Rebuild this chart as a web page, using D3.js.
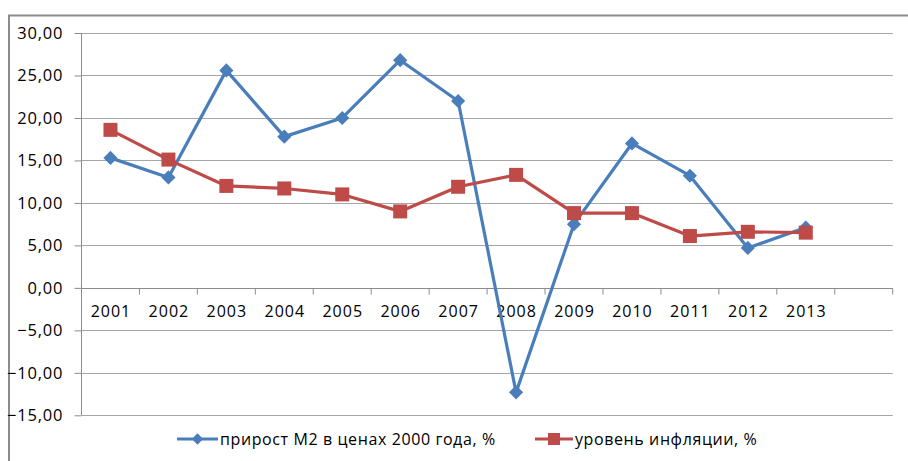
<!DOCTYPE html>
<html><head><meta charset="utf-8">
<script src="https://cdn.jsdelivr.net/npm/d3@7"></script>
<style>body{margin:0;background:#fff}svg{display:block}text{font-family:"Open Sans",Arial,sans-serif;fill:#000}</style>
</head><body>
<script>
const categories = ["2001","2002","2003","2004","2005","2006","2007","2008","2009","2010","2011","2012","2013",""];
const years = ["2001","2002","2003","2004","2005","2006","2007","2008","2009","2010","2011","2012","2013"];
const m2Growth = [15.3, 13.0, 25.6, 17.8, 20.0, 26.8, 22.0, -12.3, 7.5, 17.0, 13.2, 4.7, 7.1];
const inflation = [18.6, 15.1, 12.0, 11.7, 11.0, 9.0, 11.9, 13.3, 8.8, 8.8, 6.1, 6.6, 6.5];
const yTicks = [30, 25, 20, 15, 10, 5, 0, -5, -10, -15];
const seriesNames = ["прирост М2 в ценах 2000 года, %", "уровень инфляции, %"];
const colors = ["#4a7ebb", "#be4b48"];

const W = 908, H = 461;
const FONT = "'Open Sans',Arial,sans-serif";
const svg = d3.select("body").append("svg").attr("width", W).attr("height", H);

// outer border
svg.append("path").attr("d", `M9,${H+2}V15.5H${W+2}`).attr("fill","none").attr("stroke","#8c8c8c").attr("stroke-width",2);

const x0 = 81.5, x1 = 892.7;
const x = d3.scaleBand().domain(categories).range([x0, x1]);
const y = d3.scaleLinear().domain([-15, 30]).range([415.3, 33]);

const fmt = v => d3.format(".2f")(v).replace(".", ",");

// gridlines
svg.append("g").selectAll("line").data(yTicks).join("line")
  .attr("x1", x0).attr("x2", x1)
  .attr("y1", d => Math.round(y(d)) + 0.5).attr("y2", d => Math.round(y(d)) + 0.5)
  .attr("stroke", "#a6a6a6").attr("stroke-width", 1);

// y axis
const yAxis = d3.axisLeft(y).tickValues(yTicks).tickFormat(fmt).tickSize(7).tickPadding(12);
const gy = svg.append("g").attr("transform", `translate(${x0},0)`).call(yAxis);
gy.select(".domain").attr("stroke", "#8c8c8c").attr("d", `M0,${y(30)}V${y(-15)}`);
gy.selectAll(".tick line").attr("stroke", "#8c8c8c");
gy.selectAll(".tick text").attr("font-size", 16.5).style("font-family", FONT).attr("fill","#1a1a1a")
  .attr("letter-spacing", 0.8).attr("dx", 0.8);

// x axis at zero
const zeroY = Math.round(y(0)) + 0.5;
const gx = svg.append("g").attr("transform", `translate(0,${zeroY})`);
gx.append("line").attr("x1", x0).attr("x2", x1).attr("stroke", "#8c8c8c");
const bounds = categories.map(c => x(c)).concat([x1]);
gx.selectAll("line.tk").data(bounds.slice(1)).join("line").attr("class","tk")
  .attr("x1", d => d).attr("x2", d => d).attr("y1", 0).attr("y2", 6).attr("stroke", "#8c8c8c");
gx.selectAll("text").data(categories).join("text")
  .attr("x", d => x(d) + x.bandwidth() / 2 + 0.5).attr("y", 28)
  .attr("text-anchor", "middle").attr("font-size", 16).attr("letter-spacing", 1).attr("fill","#1a1a1a").text(d => d);

const cx = d => x(d) + x.bandwidth() / 2;
const line = d3.line().x((d, i) => cx(years[i])).y(d => y(d));

// blue series
svg.append("path").datum(m2Growth).attr("d", line).attr("fill", "none")
  .attr("stroke", colors[0]).attr("stroke-width", 3.2).attr("stroke-linejoin","round");
// red series
svg.append("path").datum(inflation).attr("d", line).attr("fill", "none")
  .attr("stroke", colors[1]).attr("stroke-width", 3.2).attr("stroke-linejoin","round");

svg.append("g").selectAll("path").data(m2Growth).join("path")
  .attr("transform", (d, i) => `translate(${cx(years[i])},${y(d)}) rotate(45)`)
  .attr("d", d3.symbol().type(d3.symbolSquare).size(100)).attr("fill", colors[0]);
svg.append("g").selectAll("rect").data(inflation).join("rect")
  .attr("x", (d, i) => cx(years[i]) - 7).attr("y", d => y(d) - 7)
  .attr("width", 14).attr("height", 14).attr("fill", colors[1]);

// legend
const ly = 439;
const lg = svg.append("g");
lg.append("line").attr("x1", 177).attr("x2", 218).attr("y1", ly).attr("y2", ly).attr("stroke", colors[0]).attr("stroke-width", 3.2);
lg.append("path").attr("transform", `translate(197.5,${ly}) rotate(45)`).attr("d", d3.symbol().type(d3.symbolSquare).size(64)).attr("fill", colors[0]);
lg.append("text").attr("x", 220).attr("y", ly + 5.5).attr("font-size", 16).attr("letter-spacing", 0.6).attr("fill","#1a1a1a").text(seriesNames[0]);
lg.append("line").attr("x1", 535).attr("x2", 573).attr("y1", ly).attr("y2", ly).attr("stroke", colors[1]).attr("stroke-width", 3.2);
lg.append("rect").attr("x", 548).attr("y", ly - 6).attr("width", 12).attr("height", 12).attr("fill", colors[1]);
lg.append("text").attr("x", 575).attr("y", ly + 5.5).attr("font-size", 16).attr("letter-spacing", 0.6).attr("fill","#1a1a1a").text(seriesNames[1]);
</script>
</body></html>
